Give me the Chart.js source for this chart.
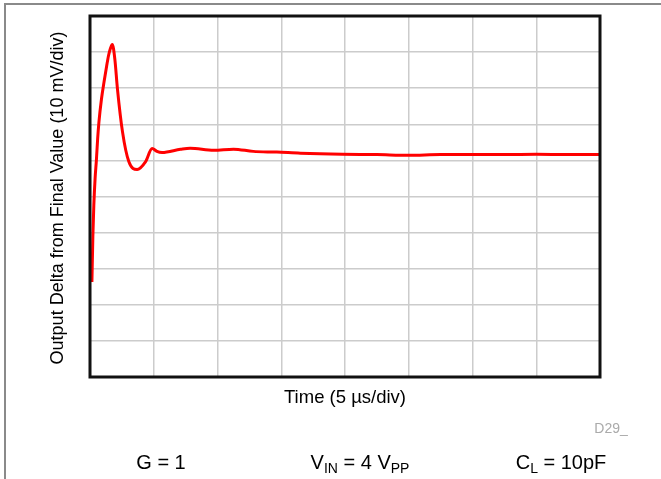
<!DOCTYPE html>
<html>
<head>
<meta charset="utf-8">
<script src="https://cdn.jsdelivr.net/npm/chart.js@4"></script>
<style>
  html, body { margin: 0; padding: 0; background: #fff; }
  #wrap { position: relative; width: 661px; height: 479px; }
  #frame { position: absolute; left: 4px; top: 3px; right: 0; bottom: 0;
           border-left: 2px solid #8a8a8a; border-top: 2px solid #8a8a8a; pointer-events: none; }
</style>
</head>
<body>
<div id="wrap">
  <canvas id="step-chart" width="661" height="479"></canvas>
  <div id="frame"></div>
</div>
<script>
// time in divisions (5 us/div), output delta in divisions (10 mV/div)
const timeDiv = [0.03, 0.045, 0.06, 0.08, 0.10, 0.12, 0.14, 0.18, 0.22, 0.26, 0.29, 0.32, 0.35, 0.39, 0.43, 0.51,
  0.61, 0.74, 0.87, 0.975, 1.05, 1.13, 1.42, 1.57, 1.94, 2.25, 2.56, 2.93, 3.3, 3.96, 4.5, 5.0, 5.5, 6.0,
  6.5, 7.0, 7.5, 8.0];
const deltaDiv = [2.63, 3.9, 4.76, 5.5, 6.0, 6.6, 7.06, 7.7, 8.17, 8.6, 8.9, 9.1, 9.21, 8.8, 7.99, 6.79,
  5.96, 5.75, 5.96, 6.33, 6.25, 6.22, 6.31, 6.34, 6.28, 6.31, 6.25, 6.23, 6.2, 6.17, 6.16, 6.14, 6.16, 6.16,
  6.16, 6.17, 6.16, 6.16];

const xTitle = 'Time (5 µs/div)';
const yTitle = 'Output Delta from Final Value (10 mV/div)';
const figId = 'D29_';
// [main, subscript, rest, subscript2, centre x]
const conditions = [
  ['G = 1', '', '', '', 161],
  ['V', 'IN', ' = 4 V', 'PP', 360],
  ['C', 'L', ' = 10pF', '', 561],
];

const font = '"Liberation Sans", Arial, sans-serif';

const textPlugin = {
  id: 'textPlugin',
  afterDraw(chart) {
    const ctx = chart.ctx;
    const a = chart.chartArea;
    ctx.save();
    // frame
    ctx.strokeStyle = '#111';
    ctx.lineWidth = 3;
    ctx.strokeRect(a.left, a.top, a.right - a.left, a.bottom - a.top);

    ctx.fillStyle = '#000';
    ctx.textBaseline = 'middle';
    ctx.textAlign = 'center';
    ctx.font = '18.5px ' + font;
    ctx.fillText(xTitle, 345, 398);

    ctx.save();
    ctx.translate(58, 198);
    ctx.rotate(-Math.PI / 2);
    ctx.font = '18px ' + font;
    ctx.fillText(yTitle, 0, 0);
    ctx.restore();

    ctx.fillStyle = '#aaa';
    ctx.font = '14px ' + font;
    ctx.fillText(figId, 611, 429);

    // condition labels with subscripts
    ctx.fillStyle = '#000';
    ctx.textAlign = 'left';
    ctx.textBaseline = 'alphabetic';
    conditions.forEach(c => {
      const big = '20px ' + font, small = '14px ' + font;
      const parts = [[c[0], big, 0], [c[1], small, 4], [c[2], big, 0], [c[3], small, 4]];
      let w = 0;
      parts.forEach(p => { ctx.font = p[1]; w += ctx.measureText(p[0]).width; });
      let x = c[4] - w / 2;
      parts.forEach(p => {
        ctx.font = p[1];
        ctx.fillText(p[0], x, 469 + p[2]);
        x += ctx.measureText(p[0]).width;
      });
    });
    ctx.restore();
  }
};

new Chart(document.getElementById('step-chart'), {
  type: 'line',
  data: {
    datasets: [{
      data: timeDiv.map((t, i) => ({ x: t, y: deltaDiv[i] })),
      borderColor: '#ff0000',
      borderWidth: 3,
      pointRadius: 0,
      cubicInterpolationMode: 'monotone',
    }],
  },
  options: {
    responsive: false,
    animation: false,
    layout: { padding: { left: 90, top: 16, right: 61, bottom: 102 } },
    plugins: { legend: { display: false }, tooltip: { enabled: false } },
    scales: {
      x: {
        type: 'linear', min: 0, max: 8,
        ticks: { display: false, stepSize: 1 },
        grid: { color: '#cccccc', lineWidth: 1.5, drawTicks: false },
        border: { display: false },
      },
      y: {
        min: 0, max: 10,
        ticks: { display: false, stepSize: 1 },
        grid: { color: '#cccccc', lineWidth: 1.5, drawTicks: false },
        border: { display: false },
      },
    },
  },
  plugins: [textPlugin],
});
</script>
</body>
</html>
